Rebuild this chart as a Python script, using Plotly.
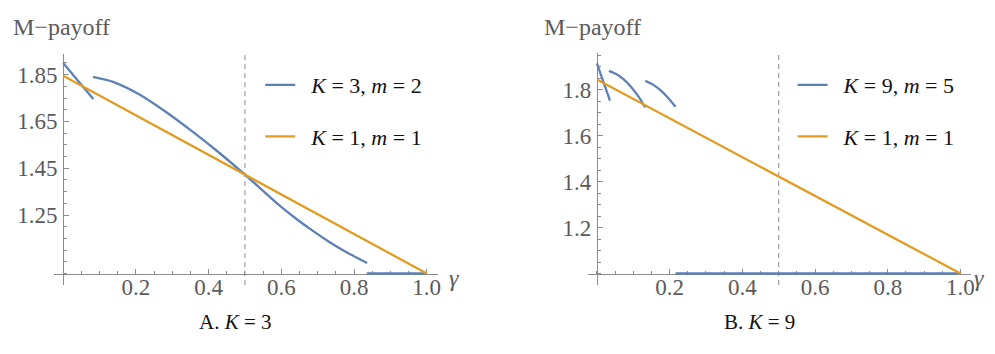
import plotly.graph_objects as go

PAGE_W, PAGE_H = 995, 354
OFF = 8  # default body margin of the html page
W, H = PAGE_W - OFF, PAGE_H - OFF
BLUE = "#5E81B5"
ORANGE = "#E19C24"
GRAY_TXT = "#5a5a5a"
AXIS_GRAY = "#8c8c8c"
SERIF = "Liberation Serif, Times New Roman, serif"

# ---------------- data ----------------
# Panel A (K = 3, m = 2): three branches
a_gamma_1 = [0.0, 0.042, 0.083]
a_pay_1 = [1.900, 1.822, 1.746]
a_gamma_2 = [0.082, 0.137, 0.210, 0.284, 0.356, 0.430, 0.500, 0.594, 0.640, 0.686, 0.730, 0.777, 0.836]
a_pay_2 = [1.840, 1.819, 1.765, 1.689, 1.606, 1.515, 1.423, 1.292, 1.235, 1.183, 1.137, 1.093, 1.045]
a_gamma_3 = [0.835, 1.0]
a_pay_3 = [1.0, 1.0]

# Panel B (K = 9, m = 5): four branches
b_gamma_1 = [0.0, 0.036]
b_pay_1 = [1.916, 1.753]
b_gamma_2 = [0.033, 0.053, 0.073, 0.093, 0.113, 0.133]
b_pay_2 = [1.883, 1.869, 1.847, 1.815, 1.774, 1.724]
b_gamma_3 = [0.133, 0.153, 0.173, 0.193, 0.216]
b_pay_3 = [1.840, 1.824, 1.801, 1.770, 1.727]
b_gamma_4 = [0.216, 1.0]
b_pay_4 = [1.0, 1.0]

# Benchmark K = 1, m = 1
base_gamma = [0.0, 1.0]
base_pay = [1.845, 1.0]

gamma_mark = 0.5

x_tickvals = [0.2, 0.4, 0.6, 0.8, 1.0]
x_ticktext = ["0.2", "0.4", "0.6", "0.8", "1.0"]
a_y_tickvals = [1.25, 1.45, 1.65, 1.85]
a_y_ticktext = ["1.25", "1.45", "1.65", "1.85"]
b_y_tickvals = [1.2, 1.4, 1.6, 1.8]
b_y_ticktext = ["1.2", "1.4", "1.6", "1.8"]

PAD = "\u00a0\u00a0"
a_names = [PAD + "<i>K</i> = 3, <i>m</i> = 2", PAD + "<i>K</i> = 1, <i>m</i> = 1"]
b_names = [PAD + "<i>K</i> = 9, <i>m</i> = 5", PAD + "<i>K</i> = 1, <i>m</i> = 1"]
captions = ["A. <i>K</i> = 3", "B. <i>K</i> = 9"]


def join(*segs):
    xs, ys = [], []
    for i in range(0, len(segs), 2):
        if xs:
            xs.append(None)
            ys.append(None)
        xs += list(segs[i])
        ys += list(segs[i + 1])
    return xs, ys


# ---------------- layout geometry (page pixels) ----------------
XR = [-0.025, 1.03]
A_YR = [0.95, 1.94]
B_YR = [0.95, 1.96]
A_X0, B_X0, XS = 63.3, 598.7, 364.7
Y1PX = 273.5
A_YS, B_YS = 234.0, 229.5


def px(xp):
    return (xp - OFF) / W


def py(yp):
    return 1 - (yp - OFF) / H


def xdom(x0px):
    return [px(x0px + XR[0] * XS), px(x0px + XR[1] * XS)]


def ydom(yr, ys):
    bot = Y1PX + (1.0 - yr[0]) * ys
    top = Y1PX - (yr[1] - 1.0) * ys
    return [py(bot), py(top)]


fig = go.Figure()

ax, ay = join(a_gamma_1, a_pay_1, a_gamma_2, a_pay_2, a_gamma_3, a_pay_3)
bx, by = join(b_gamma_1, b_pay_1, b_gamma_2, b_pay_2, b_gamma_3, b_pay_3, b_gamma_4, b_pay_4)

LW = 2.3
fig.add_trace(go.Scatter(x=ax, y=ay, mode="lines", name=a_names[0], xaxis="x", yaxis="y",
                         line=dict(color=BLUE, width=LW, shape="spline", smoothing=0.8),
                         connectgaps=False, legend="legend", legendgroup="a1"))
fig.add_trace(go.Scatter(x=base_gamma, y=base_pay, mode="lines", name=a_names[1], xaxis="x", yaxis="y",
                         line=dict(color=ORANGE, width=LW), legend="legend", legendgroup="a2"))
fig.add_trace(go.Scatter(x=bx, y=by, mode="lines", name=b_names[0], xaxis="x2", yaxis="y2",
                         line=dict(color=BLUE, width=LW, shape="spline", smoothing=0.8),
                         connectgaps=False, legend="legend2", legendgroup="b1"))
fig.add_trace(go.Scatter(x=base_gamma, y=base_pay, mode="lines", name=b_names[1], xaxis="x2", yaxis="y2",
                         line=dict(color=ORANGE, width=LW), legend="legend2", legendgroup="b2"))

tickfont = dict(family=SERIF, size=23, color=GRAY_TXT)


def xaxis_def(x0px, ydomain, yr):
    pos = ydomain[0] + (1.0 - yr[0]) / (yr[1] - yr[0]) * (ydomain[1] - ydomain[0])
    return dict(domain=xdom(x0px), range=XR, anchor="free", position=pos,
                showgrid=False, zeroline=False, showline=True, linecolor=AXIS_GRAY, linewidth=1,
                ticks="inside", ticklen=5, tickcolor=AXIS_GRAY, tickwidth=1,
                tickmode="array", tickvals=x_tickvals, ticktext=x_ticktext,
                tickfont=tickfont, ticklabelstandoff=-7, layer="below traces",
                minor=dict(tickmode="linear", tick0=0, dtick=0.05, ticks="inside", ticklen=3,
                           tickcolor=AXIS_GRAY, showgrid=False))


def yaxis_def(x0px, yr, ys, tv, tt):
    dom = ydom(yr, ys)
    return dict(domain=dom, range=yr, anchor="free", position=px(x0px),
                showgrid=False, zeroline=False, showline=True, linecolor=AXIS_GRAY, linewidth=1,
                ticks="inside", ticklen=5, tickcolor=AXIS_GRAY, tickwidth=1,
                tickmode="array", tickvals=tv, ticktext=tt,
                tickfont=tickfont, ticklabelstandoff=1, layer="below traces",
                minor=dict(tickmode="linear", tick0=1.0, dtick=0.05, ticks="inside", ticklen=3,
                           tickcolor=AXIS_GRAY, showgrid=False))


a_ydom = ydom(A_YR, A_YS)
b_ydom = ydom(B_YR, B_YS)

legend_font = dict(family=SERIF, size=22, color="#111111")

fig.update_layout(
    width=W, height=H,
    margin=dict(l=0, r=0, t=0, b=0),
    paper_bgcolor="white", plot_bgcolor="white",
    xaxis=xaxis_def(A_X0, a_ydom, A_YR),
    yaxis=yaxis_def(A_X0, A_YR, A_YS, a_y_tickvals, a_y_ticktext),
    xaxis2=xaxis_def(B_X0, b_ydom, B_YR),
    yaxis2=yaxis_def(B_X0, B_YR, B_YS, b_y_tickvals, b_y_ticktext),
    showlegend=True,
    legend=dict(x=px(261), y=py(64), xanchor="left", yanchor="top", font=legend_font,
                bgcolor="rgba(0,0,0,0)", tracegroupgap=20, itemwidth=30),
    legend2=dict(x=px(795), y=py(64), xanchor="left", yanchor="top", font=legend_font,
                 bgcolor="rgba(0,0,0,0)", tracegroupgap=20, itemwidth=30),
)

# dashed reference lines at gamma = 0.5
for xr, yr_ in (("x", "y domain"), ("x2", "y2 domain")):
    fig.add_shape(type="line", xref=xr, yref=yr_, x0=gamma_mark, x1=gamma_mark, y0=0, y1=1,
                  line=dict(color="#8a8a8a", width=1, dash="5px,4px"), layer="below")

title_font = dict(family=SERIF, size=24, color=GRAY_TXT)
gamma_font = dict(family=SERIF, size=24, color=GRAY_TXT)
cap_font = dict(family=SERIF, size=21, color="#111111")

for x0px in (11, 544):
    fig.add_annotation(x=px(x0px), y=py(27), xref="paper", yref="paper", text="M\u2212payoff",
                       showarrow=False, xanchor="left", yanchor="middle", font=title_font)
for xpx in (448, 975):
    fig.add_annotation(x=px(xpx), y=py(278), xref="paper", yref="paper", text="<i>\u03b3</i>",
                       showarrow=False, xanchor="left", yanchor="middle", font=gamma_font)
for cx, cap in zip((236, 762), captions):
    fig.add_annotation(x=px(cx), y=py(322), xref="paper", yref="paper", text=cap,
                       showarrow=False, xanchor="center", yanchor="middle", font=cap_font)

fig.write_html("out.html")
